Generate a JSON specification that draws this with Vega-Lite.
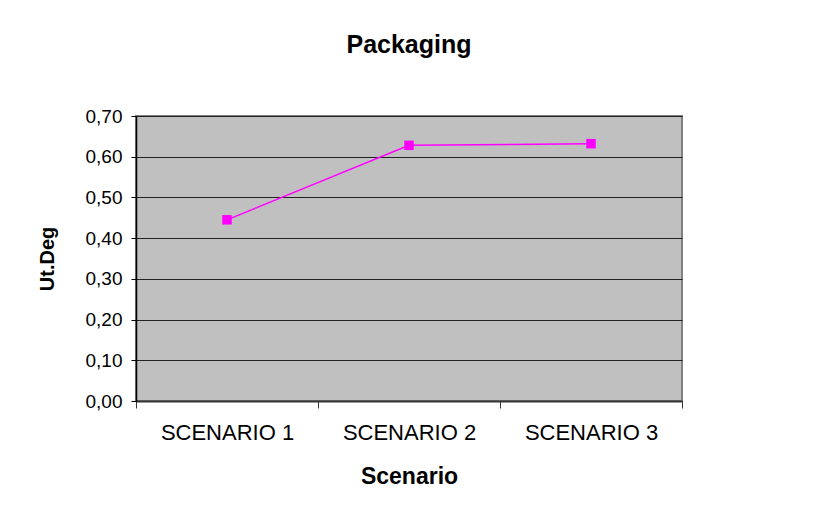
{
  "$schema": "https://vega.github.io/schema/vega-lite/v6.json",
  "width": 546,
  "height": 285,
  "autosize": {"type": "none"},
  "padding": {"left": 136, "top": 116, "right": 143, "bottom": 107},
  "background": "white",
  "title": {
    "text": "Packaging",
    "font": "Liberation Sans",
    "fontSize": 25,
    "fontWeight": "bold",
    "color": "black",
    "anchor": "middle",
    "offset": 49
  },
  "data": {
    "values": [
      {"scenario": "SCENARIO 1", "value": 0.445},
      {"scenario": "SCENARIO 2", "value": 0.628},
      {"scenario": "SCENARIO 3", "value": 0.632}
    ]
  },
  "config": {
    "view": {"fill": "#c0c0c0", "stroke": "#808080", "strokeWidth": 2},
    "axis": {
      "labelFont": "Liberation Sans",
      "titleFont": "Liberation Sans",
      "labelColor": "black",
      "titleColor": "black",
      "titleFontWeight": "bold"
    }
  },
  "mark": {"type": "line", "color": "#ff00ff", "strokeWidth": 1.5, "point": {"shape": "square", "size": 90, "filled": true, "color": "#ff00ff", "opacity": 1}},
  "encoding": {
    "x": {
      "field": "scenario",
      "type": "ordinal",
      "scale": {"type": "band", "paddingInner": 0, "paddingOuter": 0},
      "axis": {
        "title": "Scenario",
        "titleFontSize": 23,
        "titlePadding": 22,
        "labelFontSize": 22,
        "labelAngle": 0,
        "labelPadding": 14,
        "tickBand": "extent",
        "tickSize": 7,
        "tickColor": "#333333",
        "domainColor": "#333333",
        "domainWidth": 2,
        "grid": false
      }
    },
    "y": {
      "field": "value",
      "type": "quantitative",
      "scale": {"domain": [0, 0.7], "nice": false},
      "axis": {
        "title": "Ut.Deg",
        "titleFontSize": 20,
        "titlePadding": 28,
        "labelFontSize": 19,
        "values": [0, 0.1, 0.2, 0.3, 0.4, 0.5, 0.6, 0.7],
        "labelExpr": "replace(format(datum.value, '.2f'), '.', ',')",
        "tickSize": 5,
        "tickColor": "black",
        "domainColor": "black",
        "domainWidth": 1.5,
        "grid": true,
        "gridColor": "#222222",
        "gridWidth": 1.2,
        "gridOpacity": 1,
        "labelPadding": 9
      }
    }
  }
}
